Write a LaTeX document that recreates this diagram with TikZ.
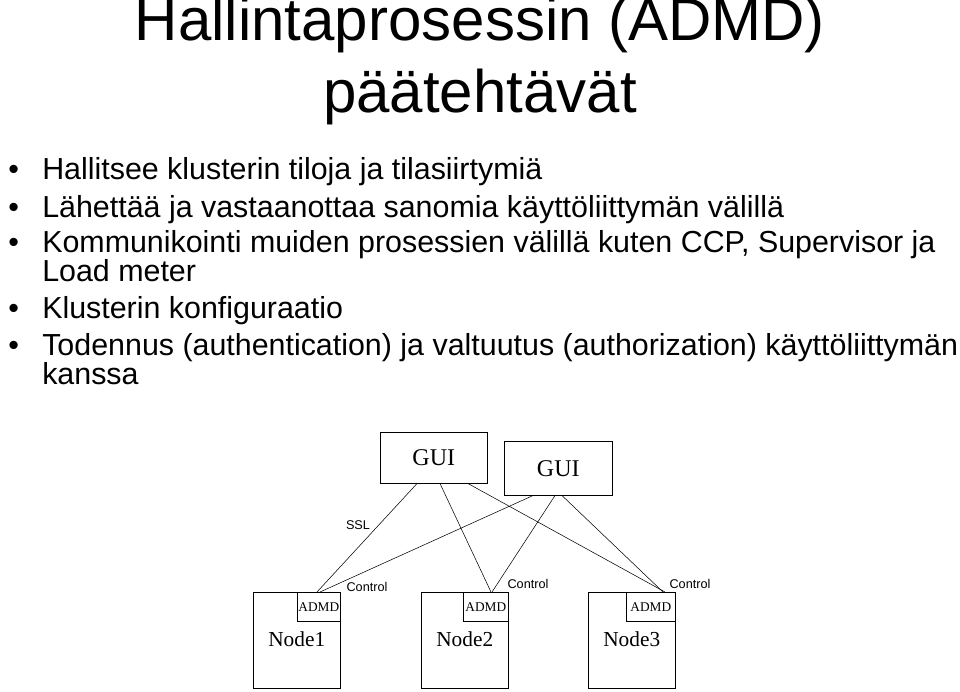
\documentclass[tikz,border=0pt]{standalone}
\usepackage{fontspec}
\setmainfont{Liberation Sans}
\newfontfamily\diagfont{Liberation Serif}
\usetikzlibrary{calc}
\tikzset{
	box/.style = {draw, thin, inner sep=0pt, anchor=north west},
	guibox/.style = {box, font=\diagfont\fontsize{18}{18}\selectfont},
	link/.style = {thin},
	tag/.style = {font=\fontsize{9.5}{9.5}\selectfont, inner sep=1pt},
	bullet/.style = {anchor=base west, inner sep=0pt, font=\fontsize{22.8}{24}\selectfont},
}
\begin{document}
\begin{tikzpicture}[x=0.75pt,y=-0.75pt]
	\useasboundingbox (0,0) rectangle (960,692);
	% title
	\node[font=\fontsize{45}{45}\selectfont, anchor=base] (title1) at (480,41) {Hallintaprosessin (ADMD)};
	\node[font=\fontsize{45}{45}\selectfont, anchor=base] (title2) at (480,113) {päätehtävät};
	% bullets
	\foreach \y/\txt in {179/Hallitsee klusterin tiloja ja tilasiirtymiä,
		217/Lähettää ja vastaanottaa sanomia käyttöliittymän välillä,
		252/{Kommunikointi muiden prosessien välillä kuten CCP, Supervisor ja},
		318/Klusterin konfiguraatio,
		355/Todennus (authentication) ja valtuutus (authorization) käyttöliittymän}
	{
		\node[bullet] at (8,\y) {•};
		\node[bullet] at (42,\y) {\txt};
	};
	\node[bullet] (load) at (42,281) {Load meter};
	\node[bullet] (kanssa) at (42,384) {kanssa};
	% diagram
	\node[guibox, minimum width=107*0.75pt, minimum height=51*0.75pt] (gui1) at (380,432) {GUI};
	\node[guibox, minimum width=108*0.75pt, minimum height=54*0.75pt] (gui2) at (504,441) {GUI};
	\foreach \n/\x/\w in {1/253/43, 2/421/45, 3/588/49}
	{
		\node[box, minimum width=87*0.75pt, minimum height=96*0.75pt] (node\n) at (\x,592) {};
		\node[box, anchor=north east, minimum width=\w*0.75pt, minimum height=29*0.75pt,
			font=\diagfont\fontsize{10}{10}\selectfont] (admd\n) at (node\n.north east) {ADMD};
		\node[font=\diagfont\fontsize{16}{16}\selectfont] (label\n) at ($(node\n.north)+(0,47)$) {Node\n};
	};
	\draw[link] ($(gui1.south west)+(37,0)$) -- ($(node1.north west)+(64,0)$);
	\draw[link] ($(gui1.south west)+(60,0)$) -- ($(node2.north west)+(70,0)$);
	\draw[link] ($(gui1.south west)+(88,0)$) -- ($(node3.north west)+(77,0)$);
	\draw[link] ($(gui2.south west)+(29,0)$) -- ($(node1.north west)+(67,0)$);
	\draw[link] ($(gui2.south west)+(51,0)$) -- ($(node2.north west)+(71,0)$);
	\draw[link] ($(gui2.south west)+(58,0)$) -- ($(node3.north west)+(75,0)$);
	\node[tag] (ssl) at (358,525) {SSL};
	\node[tag] (ctrl1) at (367,587) {Control};
	\node[tag] (ctrl2) at (528,584) {Control};
	\node[tag] (ctrl3) at (690,584) {Control};
\end{tikzpicture}
\end{document}
